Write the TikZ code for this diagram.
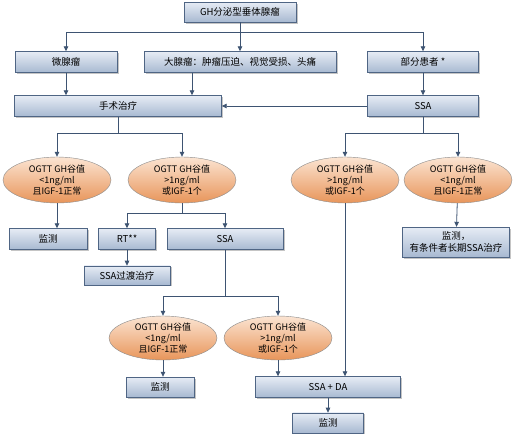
\documentclass[tikz,border=0pt]{standalone}
\usepackage{fontspec}
\setmainfont{Noto Sans CJK SC}
\usetikzlibrary{shapes.geometric,arrows.meta,positioning,shadows}
\definecolor{BoxEdge}{HTML}{4F6584}
\definecolor{BoxTop}{HTML}{E6ECF5}
\definecolor{BoxBot}{HTML}{A8B9D1}
\definecolor{OvalTop}{HTML}{FBE4D2}
\definecolor{OvalBot}{HTML}{E8955A}
\definecolor{OvalEdge}{HTML}{8C8C8C}
\definecolor{LinkBlue}{HTML}{3E5472}
\tikzset{
  box/.style={rectangle,draw=BoxEdge,top color=BoxTop,bottom color=BoxBot,
              minimum height=21pt,inner sep=1pt,align=center,font=\fontsize{9.5}{11.5}\selectfont,
              drop shadow={shadow xshift=1.5pt,shadow yshift=-1.5pt,fill=black!45}},
  oval/.style={ellipse,draw=OvalEdge,top color=OvalTop,bottom color=OvalBot,
               minimum width=108pt,minimum height=46pt,inner sep=0pt,align=center,
               font=\fontsize{9}{11}\selectfont},
  arr/.style={-{Triangle[length=5pt,width=4.5pt]},line width=0.8pt,color=LinkBlue},
  lnk/.style={line width=0.8pt,color=LinkBlue},
}

\begin{document}
\begin{tikzpicture}[x=1pt,y=1pt]
  \useasboundingbox[fill=white] (0,0) rectangle (513,-437);

  \node[box,minimum width=112pt,minimum height=20pt] (gh) at (240,-12) {GH分泌型垂体腺瘤};
  \node[box,minimum width=102pt] (micro) at (66,-62)  {微腺瘤};
  \node[box,minimum width=192pt] (macro) at (240,-62) {大腺瘤：肿瘤压迫、视觉受损、头痛};
  \node[box,minimum width=111pt] (part)  at (423,-62) {部分患者 *};
  \node[box,minimum width=207pt] (surg)  at (118,-106) {手术治疗};
  \node[box,minimum width=111pt] (ssaA)  at (423,-106) {SSA};

  \node[oval] (lowA)  at (57,-180)  {OGTT GH谷值\\<1ng/ml\\且IGF-1正常};
  \node[oval] (highA) at (182,-180) {OGTT GH谷值\\>1ng/ml\\或IGF-1个};
  \node[oval] (highB) at (345,-180) {OGTT GH谷值\\>1ng/ml\\或IGF-1个};
  \node[oval] (lowB)  at (458,-180) {OGTT GH谷值\\<1ng/ml\\且IGF-1正常};

  \node[box,minimum width=78pt]  (monA) at (48,-239)  {监测};
  \node[box,minimum width=57pt]  (rt)   at (127,-239) {RT**};
  \node[box,minimum width=116pt] (ssaB) at (225,-239) {SSA};
  \node[box,minimum width=107pt,minimum height=30pt] (monB) at (456,-242) {监测，\\有条件者长期SSA治疗};
  \node[box,minimum width=86pt,minimum height=19pt,below=16pt of rt] (bridge) {SSA过渡治疗};

  \node[oval,minimum height=44pt] (lowC)  at (163,-338) {OGTT GH谷值\\<1ng/ml\\且IGF-1正常};
  \node[oval,minimum height=44pt] (highC) at (278,-338) {OGTT GH谷值\\>1ng/ml\\或IGF-1个};

  \node[box,minimum width=68pt,minimum height=20pt] (monC)  at (160,-387) {监测};
  \node[box,minimum width=145pt] (combo) at (328,-387) {SSA + DA};
  \node[box,minimum width=71pt,minimum height=20pt,below=15pt of combo] (monD) {监测};

  % branch points
  \coordinate (split0) at (240,-32);
  \coordinate (split1) at (118,-133);
  \coordinate (split2) at (423,-133);
  \coordinate (split3) at (182,-213);
  \coordinate (split4) at (225,-296);

  \draw[arr] (gh.south) -- (macro.north);
  \draw[arr] (split0) -| (micro.north);
  \draw[arr] (split0) -| (part.north);
  \draw[arr] (micro.south) -- (micro.south |- surg.north);
  \draw[arr] ([xshift=-48pt]macro.south) -- ([xshift=-48pt]macro.south |- surg.north);
  \draw[arr] (part) -- (ssaA);
  \draw[arr] (ssaA) -- (surg);

  \draw[lnk] (surg.south) -- (split1);
  \draw[arr] (split1) -| (lowA.north);
  \draw[arr] (split1) -| (highA.north);
  \draw[lnk] (ssaA.south) -- (split2);
  \draw[arr] (split2) -| (highB.north);
  \draw[arr] (split2) -| (lowB.north);

  \draw[arr] (lowA.south) -- (lowA.south |- monA.north);
  \draw[lnk] (highA.south) -- (split3);
  \draw[arr] (split3) -| (rt.north);
  \draw[arr] (split3) -| (ssaB.north);
  \draw[arr] (rt) -- (bridge);
  \draw[arr] (lowB) -- (monB);

  \draw[lnk] (ssaB.south) -- (split4);
  \draw[arr] (split4) -| (lowC.north);
  \draw[arr] (split4) -| (highC.north);
  \draw[arr] (lowC.south) -- (lowC.south |- monC.north);
  \draw[arr] (highC.south) -- (highC.south |- combo.north);
  \draw[arr] (highB.south) -- (highB.south |- combo.north);
  \draw[arr] (combo) -- (monD);
\end{tikzpicture}
\end{document}
